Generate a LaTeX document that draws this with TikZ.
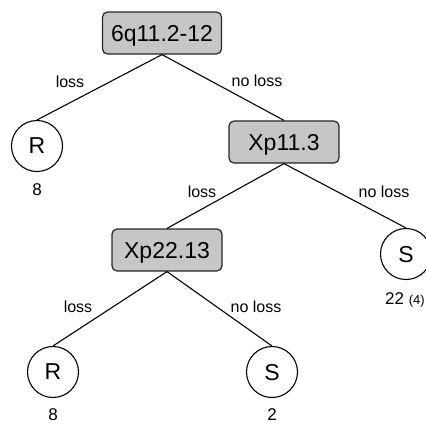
\documentclass[tikz,border=0pt]{standalone}
\usepackage{fontspec}
\setmainfont{Liberation Sans}
\begin{document}
\begin{tikzpicture}[x=1pt,y=-1pt,
  region/.style={draw=black!85, fill=gray!45, rounded corners=5pt, line width=1.2pt, inner sep=0pt, text depth=0pt, font=\fontsize{23}{27}\selectfont, minimum height=42pt},
  leaf/.style={draw=black, circle, fill=white, line width=1.1pt, minimum size=51pt, inner sep=0pt, text depth=0pt, font=\fontsize{23}{27}\selectfont},
  edgelab/.style={anchor=base, inner sep=0pt, font=\fontsize{16}{19}\selectfont},
  count/.style={anchor=base, inner sep=0pt, font=\fontsize{17}{20}\selectfont},
  branch/.style={line width=1.1pt}]
\useasboundingbox (0,0) rectangle (426,424);
% decision nodes
\node[region, minimum width=119pt] (top) at (162,33) {6q11.2-12};
\node[region, minimum width=110pt] (xp11) at (284,142) {Xp11.3};
\node[region, minimum width=110pt] (xp22) at (167,250) {Xp22.13};
% leaves
\node[leaf] (r1) at (37,146) {R};
\node[leaf] (s1) at (406,254) {S};
\node[leaf] (r2) at (53,372) {R};
\node[leaf] (s2) at (272,372) {S};
% branches
\draw[branch] (top.south) -- (r1.north);
\draw[branch] (top.south) -- (xp11.north);
\draw[branch] (xp11.south) -- (xp22.north);
\draw[branch] (xp11.south) -- (s1.north);
\draw[branch] (xp22.south) -- (r2.north);
\draw[branch] (xp22.south) -- (s2.north);
% branch labels
\node[edgelab] (l1) at (70,87) {loss};
\node[edgelab] (l2) at (257,86) {no loss};
\node[edgelab] (l3) at (202,197) {loss};
\node[edgelab] (l4) at (384,197) {no loss};
\node[edgelab] (l5) at (78,312) {loss};
\node[edgelab] (l6) at (256,312) {no loss};
% counts
\node[count] (c1) at (37,195) {8};
\node[count] (c2) at (405,304) {22 {\fontsize{13}{15}\selectfont(4)}};
\node[count] (c3) at (53,420) {8};
\node[count] (c4) at (272,420) {2};
\end{tikzpicture}
\end{document}
